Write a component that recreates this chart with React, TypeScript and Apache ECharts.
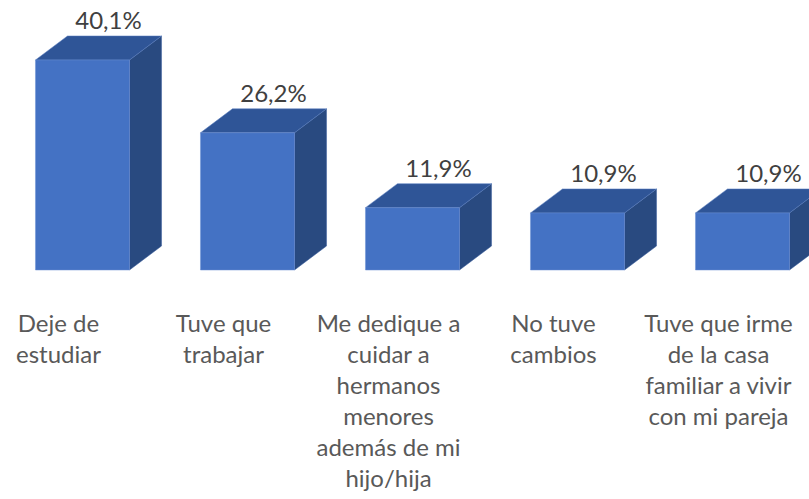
import React, { useEffect, useRef } from "react";
import * as echarts from "echarts";

const categories = [
  "Deje de\nestudiar",
  "Tuve que\ntrabajar",
  "Me dedique a\ncuidar a\nhermanos\nmenores\nademás de mi\nhijo/hija",
  "No tuve\ncambios",
  "Tuve que irme\nde la casa\nfamiliar a vivir\ncon mi pareja",
];
const values = [40.1, 26.2, 11.9, 10.9, 10.9];

const FRONT = "#4472C4";
const TOP = "#2F5597";
const SIDE = "#294A80";

export default function App() {
  const ref = useRef<HTMLDivElement>(null);
  useEffect(() => {
    if (!ref.current) return;
    const chart = echarts.init(ref.current, null, { renderer: "svg" });
    const dx = 32;
    const dy = 24;
    chart.setOption({
      animation: false,
      backgroundColor: "#ffffff",
      grid: {
        left: 0,
        right: 0,
        top: 34.3,
        bottom: 229,
        containLabel: false,
        outerBoundsMode: "none",
      },
      xAxis: {
        type: "category",
        data: categories,
        axisLine: { show: false },
        axisTick: { show: false },
        axisLabel: {
          interval: 0,
          margin: 37,
          fontFamily: "Lato",
          fontSize: 24,
          lineHeight: 31,
          color: "#595959",
          padding: [0, 48, 0, 0],
          hideOverlap: false,
        },
      },
      yAxis: { type: "value", min: 0, max: 45, show: false, splitLine: { show: false } },
      series: [
        {
          type: "custom",
          data: values.map((v, i) => [i, v]),
          encode: { x: 0, y: 1 },
          renderItem: (params: any, api: any) => {
            const idx = api.value(0);
            const val = api.value(1);
            const top = api.coord([idx, val]);
            const base = api.coord([idx, 0]);
            const w = api.size([1, 0])[0] * 0.57;
            const x0 = top[0] - w / 2;
            const x1 = top[0] + w / 2;
            const yT = top[1];
            const yB = base[1];
            const label = val.toFixed(1).replace(".", ",") + "%";
            return {
              type: "group",
              children: [
                {
                  type: "polygon",
                  shape: { points: [[x1, yT], [x1 + dx, yT - dy], [x1 + dx, yB - dy], [x1, yB]] },
                  style: { fill: SIDE, stroke: "#3a5f9f", lineWidth: 0.5 },
                },
                {
                  type: "polygon",
                  shape: { points: [[x0, yT], [x0 + dx, yT - dy], [x1 + dx, yT - dy], [x1, yT]] },
                  style: { fill: TOP, stroke: "#5b7fc0", lineWidth: 0.5 },
                },
                {
                  type: "rect",
                  shape: { x: x0, y: yT, width: w, height: yB - yT },
                  style: { fill: FRONT, stroke: "#6a8fd2", lineWidth: 0.5 },
                },
                {
                  type: "text",
                  x: top[0] + 26,
                  y: yT - dy - 4,
                  style: {
                    text: label,
                    fill: "#404040",
                    fontFamily: "Lato",
                    fontSize: 24,
                    align: "center",
                    verticalAlign: "bottom",
                  },
                },
              ],
            };
          },
        },
      ],
    });
    return () => chart.dispose();
  }, []);
  return (
    <div
      style={{
        position: "absolute",
        left: 0,
        top: 0,
        width: 809,
        height: 499,
        overflow: "hidden",
        background: "#ffffff",
      }}
    >
      <div ref={ref} style={{ width: 825, height: 499 }} />
    </div>
  );
}
